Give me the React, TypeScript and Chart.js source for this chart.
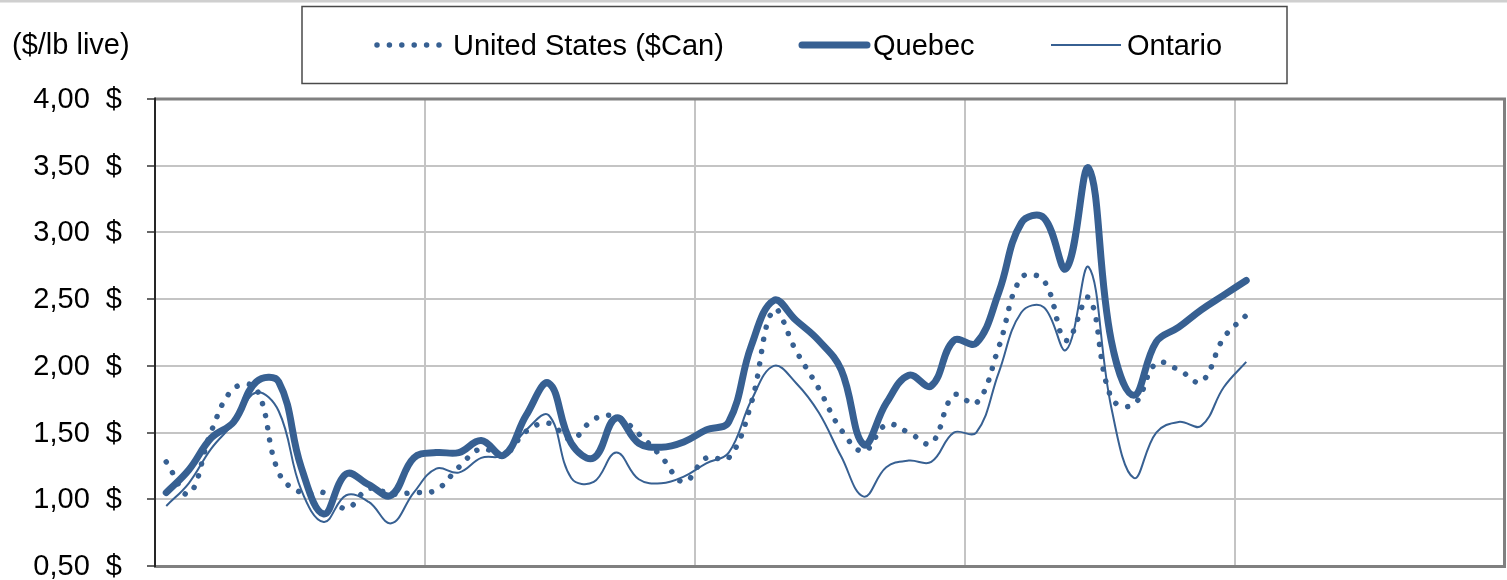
import React, { useEffect, useRef } from 'react';
import { Chart, registerables } from 'chart.js';

Chart.register(...registerables);

const W = 1507;
const H = 580;
const FONT = "'Liberation Sans', Arial, sans-serif";
const BLUE = '#376092';

// 5 years x 12 months of categories (x tick labels are not visible in the picture)
const MONTHS = ['Jan', 'Feb', 'Mar', 'Apr', 'May', 'Jun', 'Jul', 'Aug', 'Sep', 'Oct', 'Nov', 'Dec'];
const YEARS = ['Y1', 'Y2', 'Y3', 'Y4', 'Y5'];
const categories: string[] = [];
YEARS.forEach((y) => MONTHS.forEach((m) => categories.push(`${m} ${y}`)));

const unitedStates = [
  1.28, 1.04, 1.51, 1.83, 1.83, 1.2, 1.05, 1.05, 0.93, 1.08, 1.04, 1.05,
  1.07, 1.24, 1.38, 1.33, 1.51, 1.57, 1.45, 1.6, 1.62, 1.49, 1.32, 1.13,
  1.31, 1.31, 1.72, 2.42, 2.11, 1.83, 1.52, 1.36, 1.56, 1.5, 1.42, 1.78,
  1.72, 2.14, 2.66, 2.64, 2.19, 2.51, 1.76, 1.71, 2.02, 1.97, 1.88, 2.21,
  2.38,
];
const quebec = [
  1.05, 1.22, 1.46, 1.58, 1.88, 1.88, 1.24, 0.89, 1.19, 1.11, 1.03, 1.31,
  1.35, 1.35, 1.44, 1.33, 1.63, 1.87, 1.42, 1.31, 1.61, 1.42, 1.39, 1.43,
  1.52, 1.58, 2.15, 2.49, 2.34, 2.19, 1.97, 1.41, 1.72, 1.93, 1.85, 2.19,
  2.17, 2.55, 3.07, 3.11, 2.73, 3.48, 2.19, 1.78, 2.18, 2.29, 2.42, 2.53,
  2.64,
];
const ontario = [
  0.95, 1.12, 1.38, 1.57, 1.8, 1.66, 1.07, 0.83, 1.03, 0.98, 0.82, 1.05,
  1.23, 1.2, 1.31, 1.33, 1.52, 1.63, 1.16, 1.13, 1.35, 1.15, 1.12, 1.17,
  1.27, 1.35, 1.74, 2.0, 1.87, 1.65, 1.32, 1.02, 1.24, 1.29, 1.28, 1.5,
  1.5, 1.95, 2.4, 2.44, 2.12, 2.74, 1.69, 1.16, 1.5, 1.58, 1.55, 1.84,
  2.03,
];

const seriesNames = ['United States ($Can)', 'Quebec', 'Ontario'];
const yMin = 0.5;
const yMax = 4;
const yStep = 0.5;
const unitLabel = '($/lb live)';

const US_DASH = [0.001, 12.4];
const US_WIDTH = 5.5;

const decorPlugin = {
  id: 'decor',
  afterDraw(chart: any) {
    const { ctx, chartArea: a } = chart;
    ctx.save();
    // outer top strip
    ctx.fillStyle = '#cfcfcf';
    ctx.fillRect(0, 0, W, 2);
    ctx.fillStyle = '#e6e6e6';
    ctx.fillRect(0, 2, W, 1);

    // plot frame: top and right
    ctx.strokeStyle = '#808080';
    ctx.lineWidth = 3;
    ctx.beginPath();
    ctx.moveTo(a.left, a.top);
    ctx.lineTo(a.right - 0.5, a.top);
    ctx.lineTo(a.right - 0.5, a.bottom + 1);
    ctx.stroke();
    // left axis line on top
    ctx.strokeStyle = '#262626';
    ctx.lineWidth = 2;
    ctx.beginPath();
    ctx.moveTo(a.left, a.top - 1.5);
    ctx.lineTo(a.left, a.bottom);
    ctx.stroke();

    // unit label
    ctx.fillStyle = '#000';
    ctx.font = `29px ${FONT}`;
    ctx.textBaseline = 'middle';
    ctx.textAlign = 'left';
    ctx.fillText(unitLabel, 12, 46);

    // legend box
    ctx.strokeStyle = '#4a4a4a';
    ctx.lineWidth = 1.5;
    ctx.strokeRect(302, 6.5, 985, 77);

    const ly = 45;
    ctx.strokeStyle = BLUE;
    // US dotted
    ctx.lineCap = 'round';
    ctx.lineWidth = US_WIDTH;
    ctx.setLineDash(US_DASH);
    ctx.beginPath();
    ctx.moveTo(377, ly);
    ctx.lineTo(440, ly);
    ctx.stroke();
    ctx.setLineDash([]);
    // Quebec thick
    ctx.lineWidth = 7;
    ctx.beginPath();
    ctx.moveTo(802, ly);
    ctx.lineTo(867, ly);
    ctx.stroke();
    // Ontario thin
    ctx.lineCap = 'butt';
    ctx.lineWidth = 2;
    ctx.beginPath();
    ctx.moveTo(1051, ly);
    ctx.lineTo(1121, ly);
    ctx.stroke();

    ctx.fillStyle = '#000';
    ctx.fillText(seriesNames[0], 453, 46.5);
    ctx.fillText(seriesNames[1], 873, 46.5);
    ctx.fillText(seriesNames[2], 1127, 46.5);
    ctx.restore();
  },
};

export default function App() {
  const ref = useRef<HTMLCanvasElement | null>(null);

  useEffect(() => {
    if (!ref.current) return;
    const chart = new Chart(ref.current, {
      type: 'line',
      data: {
        labels: categories,
        datasets: [
          {
            label: seriesNames[0],
            data: unitedStates,
            borderColor: BLUE,
            borderWidth: US_WIDTH,
            borderDash: US_DASH,
            borderCapStyle: 'round',
            borderJoinStyle: 'round',
            pointRadius: 0,
            tension: 0.4,
            fill: false,
          },
          {
            label: seriesNames[1],
            data: quebec,
            borderColor: BLUE,
            borderWidth: 7,
            borderCapStyle: 'round',
            borderJoinStyle: 'round',
            pointRadius: 0,
            tension: 0.4,
            fill: false,
          },
          {
            label: seriesNames[2],
            data: ontario,
            borderColor: BLUE,
            borderWidth: 2,
            pointRadius: 0,
            tension: 0.4,
            fill: false,
          },
        ],
      },
      options: {
        responsive: false,
        animation: false,
        devicePixelRatio: 1,
        events: [],
        layout: { padding: { top: 99, right: 2, bottom: 14, left: 0 } },
        plugins: {
          legend: { display: false },
          title: { display: false },
          tooltip: { enabled: false },
        },
        scales: {
          x: {
            type: 'category',
            offset: true,
            ticks: { display: false, autoSkip: false },
            grid: {
              offset: true,
              drawTicks: false,
              lineWidth: 2,
              color: (c: any) =>
                c.index !== undefined && c.index % 12 === 0 ? '#c4c4c4' : 'rgba(0,0,0,0)',
            },
            border: { display: true, color: '#808080', width: 3 },
            afterFit: (s: any) => {
              s.height = 0;
              s.paddingLeft = 0;
              s.paddingRight = 0;
            },
          },
          y: {
            min: yMin,
            max: yMax,
            ticks: {
              stepSize: yStep,
              color: '#000',
              padding: 25,
              labelOffset: 1,
              font: { family: FONT, size: 29 },
              callback: (v: any) => Number(v).toFixed(2).replace('.', ',') + '  $',
            },
            grid: {
              color: '#c4c4c4',
              lineWidth: 2,
              tickLength: 8,
              tickColor: '#333333',
              tickWidth: 1.5,
            },
            border: { display: true, color: '#262626', width: 2 },
            afterFit: (s: any) => {
              s.width = 155;
              s.paddingTop = 0;
              s.paddingBottom = 0;
            },
          },
        },
      },
      plugins: [decorPlugin],
    });
    return () => chart.destroy();
  }, []);

  return (
    <div style={{ position: 'absolute', left: 0, top: 0, width: W, height: H, background: '#fff' }}>
      <canvas ref={ref} width={W} height={H} style={{ display: 'block', width: W, height: H }} />
    </div>
  );
}
